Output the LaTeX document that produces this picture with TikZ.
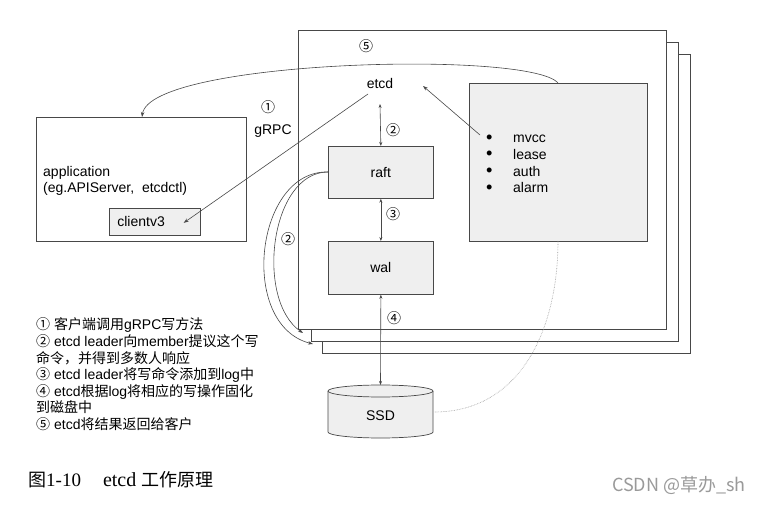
\documentclass[tikz,border=0pt]{standalone}
\usepackage{fontspec}
\setmainfont{Liberation Sans}
\newfontfamily\cjk{Noto Sans CJK SC}
\newfontfamily\capserif{Liberation Serif}
\usetikzlibrary{arrows.meta}
\newcommand{\zh}[1]{{\cjk #1}}
\newcommand{\bul}{\makebox[27pt][l]{\smash{\raisebox{-0.5pt}{\scalebox{1.3}{\textbullet}}}}}
\definecolor{boxgray}{HTML}{EFEFEF}
\definecolor{linegray}{HTML}{484848}
\definecolor{markgray}{HTML}{9A9A9A}
\begin{document}
\begin{tikzpicture}[x=1pt,y=-1pt,
  frame/.style={draw=linegray, fill=white, line width=0.7pt, anchor=north west, inner sep=0pt},
  graybox/.style={draw=linegray, fill=boxgray, line width=0.7pt, anchor=north west, inner sep=0pt},
  lbl/.style={font=\fontsize{14}{16}\selectfont, inner sep=0pt},
  num/.style={font=\fontsize{14}{16}\selectfont\cjk, inner sep=0pt},
  legend/.style={font=\fontsize{14}{16}\selectfont, inner sep=0pt, anchor=base west},
  conn/.style={draw=linegray, line width=0.6pt},
  tip/.style={-{Stealth[length=5pt,width=3.5pt]}},
  dbl/.style={{Stealth[length=4pt,width=3pt]}-{Stealth[length=4pt,width=3pt]}}]
\useasboundingbox (0,0) rectangle (761,505);
\fill[white] (0,0) rectangle (761,505);

% stacked member frames
\node[frame, minimum width=368pt, minimum height=299pt] (f3) at (322,54) {};
\node[frame, minimum width=367pt, minimum height=299pt] (f2) at (311,42) {};
\node[frame, minimum width=368pt, minimum height=299pt] (f1) at (298,30) {};

% application
\node[frame, minimum width=210pt, minimum height=124pt] (app) at (36,117) {};
\node[lbl, anchor=west, align=left, font=\fontsize{14}{15.5}\selectfont] (apptext) at (43,181) {application\\(eg.APIServer,\ \ etcdctl)};
\node[graybox, minimum width=91pt, minimum height=27pt, text width=75pt, inner xsep=8pt, font=\fontsize{14}{16}\selectfont] (client) at (109,208) {clientv3};

% etcd internals
\node[lbl] (etcd) at (380,83) {etcd};
\node[graybox, minimum width=105pt, minimum height=52pt, font=\fontsize{14}{16}\selectfont] (raft) at (328,146) {};
\node[lbl] (rafttext) at (raft.center) {raft};
\node[graybox, minimum width=105pt, minimum height=53pt] (wal) at (328,241) {};
\node[lbl] (waltext) at (wal.center) {wal};
\node[graybox, minimum width=178pt, minimum height=158pt] (feat) at (469,83) {};
\node[lbl, anchor=west, align=left, font=\fontsize{14}{16.7}\selectfont] (featlist) at (486,164) {\bul mvcc\\\bul lease\\\bul auth\\\bul alarm};

% SSD cylinder
\fill[boxgray] (328,391) -- (328,432) arc[start angle=180,end angle=0,x radius=52.5,y radius=6] -- (433,391) -- cycle;
\draw[linegray, line width=0.7pt] (328,391) -- (328,432) arc[start angle=180,end angle=0,x radius=52.5,y radius=6] -- (433,391);
\draw[linegray, line width=0.7pt, fill=boxgray] (380.5,391) ellipse[x radius=52.5,y radius=6];
\node[lbl] (ssd) at (380.5,416) {SSD};
\coordinate (ssdtop) at (380.5,385);
\coordinate (ssdright) at (434,412);

% numbers and labels
\node[num] (n5) at (366,46) {⑤};
\node[num] (n1) at (268,107) {①};
\node[lbl] (grpc) at (273,131) {gRPC};
\node[num] (n2a) at (393,130) {②};
\node[num] (n3) at (393,214) {③};
\node[num] (n4) at (394,318) {④};
\node[num] (n2b) at (288,239) {②};

% connectors
\draw[conn, dbl] ([yshift=-21pt]etcd.center) -- (raft.north);
\draw[conn, dbl] (raft.south) -- (wal.north);
\draw[conn, dbl] (wal.south) -- (ssdtop);
\draw[conn, tip] ([xshift=-12pt,yshift=-11pt]etcd.center) -- ([xshift=-17pt,yshift=-1pt]client.east);
\coordinate (fstart) at (480,135);
\draw[conn, tip] (fstart) -- ([xshift=43pt,yshift=-3pt]etcd.center);
\coordinate (ftop) at (558,83);
\draw[conn, tip] (ftop) .. controls (530,50) and (150,60) .. ([xshift=106pt]app.north west);
\coordinate (fbot) at (558,241);
\draw[markgray, densely dotted, line width=0.6pt] (fbot) .. controls (558,330) and (520,412) .. (ssdright);
\coordinate (raftl) at (328,172);
\draw[conn, tip] (raftl) .. controls (270,172) and (255,300) .. ([xshift=5pt,yshift=-303pt]f1.north west);
\draw[conn, tip] (raftl) .. controls (255,170) and (238,325) .. ([xshift=2pt,yshift=-302pt]f2.north west);

% legend
\node[legend] (l1) at (36,330) {\zh{①} \zh{客户端调用}gRPC\zh{写方法}};
\node[legend] (l2) at (36,346.5) {\zh{②} etcd leader\zh{向}member\zh{提议这个写}};
\node[legend] (l3) at (36,363) {\zh{命令，并得到多数人响应}};
\node[legend] (l4) at (36,379.5) {\zh{③} etcd leader\zh{将写命令添加到}log\zh{中}};
\node[legend] (l5) at (36,396) {\zh{④} etcd\zh{根据}log\zh{将相应的写操作固化}};
\node[legend] (l6) at (36,412.5) {\zh{到磁盘中}};
\node[legend] (l7) at (36,429) {\zh{⑤} etcd\zh{将结果返回给客户}};

% caption and watermark
\node[inner sep=0pt, anchor=base west, font=\fontsize{18}{20}\selectfont] (cap) at (28,486) {\zh{图}{\capserif\fontsize{19}{20}\selectfont 1-10}\hspace{22pt}{\capserif\fontsize{20}{20}\selectfont etcd} \zh{工作原理}};
\node[inner sep=0pt, anchor=base east, text=markgray, font=\fontsize{18}{20}\selectfont\cjk] (wm) at (746,491) {CSDN @草办\_sh};
\end{tikzpicture}
\end{document}
